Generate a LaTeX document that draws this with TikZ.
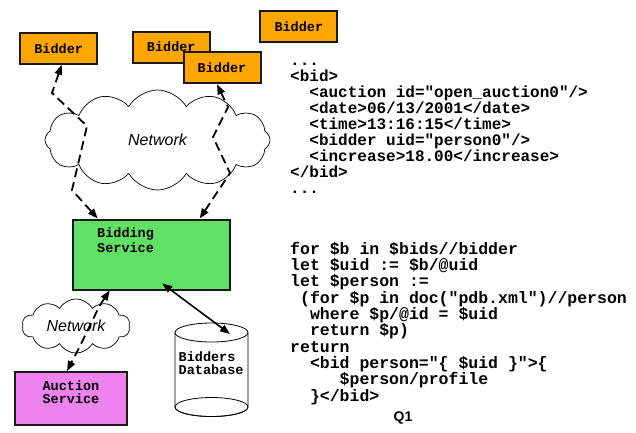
\documentclass[tikz,border=0pt]{standalone}
\usepackage{fontspec}
\setmainfont{Liberation Sans}
\newfontfamily\codefont{Liberation Mono}
\usetikzlibrary{arrows.meta,shapes.symbols,calc}

\definecolor{bidorange}{RGB}{255,166,0}
\definecolor{svcgreen}{RGB}{96,224,100}
\definecolor{aucpink}{RGB}{238,130,238}
\definecolor{edgegray}{RGB}{25,25,25}

\begin{document}
\begin{tikzpicture}[x=1pt,y=-1pt,
  box/.style={draw=edgegray, line width=2pt, inner sep=0pt},
  boxfont/.style={font=\codefont\bfseries\fontsize{13.5}{13}\selectfont},
  bidder/.style={box, boxfont, fill=bidorange, minimum width=77pt, minimum height=31pt},
  netcloud/.style={cloud, draw, line width=0.7pt, fill=white, inner sep=0pt,
                   font=\itshape\fontsize{16}{16}\selectfont},
  codetext/.style={font=\codefont\bfseries\fontsize{16}{16}\selectfont, align=left, inner sep=0pt},
  querytext/.style={font=\codefont\bfseries\fontsize{16.5}{16.3}\selectfont, align=left, inner sep=0pt},
  endtip/.tip={Triangle[length=10pt,width=7.5pt]},
  dasharr/.style={line width=1.8pt, dash pattern=on 9pt off 5pt, endtip-endtip},
  solidarr/.style={line width=1.6pt, endtip-endtip}
]
\useasboundingbox (0,0) rectangle (636,432);

% clouds
\node[netcloud, cloud puffs=12, cloud puff arc=120, aspect=2.2,
      minimum width=225pt, minimum height=100pt] (net) at (157.5,140) {Network};
\node[netcloud, cloud puffs=10, cloud puff arc=120, aspect=2,
      minimum width=108pt, minimum height=52pt] (net2) at (76,326) {Network};

% bidders
\node[bidder] (bidA) at (58.7,48.2) {Bidder};
\node[bidder] (bidB) at (171.3,47) {Bidder};
\node[bidder] (bidC) at (222,67.8) {Bidder};
\node[bidder] (bidD) at (298.8,26.7) {Bidder};

% services
\node[box, fill=svcgreen, minimum width=157pt, minimum height=70pt] (bsvc) at (151.2,254.5) {};
\node[font=\codefont\bfseries\fontsize{13.5}{14.8}\selectfont, align=left, inner sep=0pt, anchor=west] (bsvclbl) at (97,240.5) {Bidding\\Service};
\node[box, fill=aucpink, minimum width=112pt, minimum height=53pt] (auc) at (71,398.5) {};
\node[boxfont, align=center, inner sep=0pt] (auclbl) at (71,392.5) {Auction\\Service};

% database cylinder
\draw[line width=0.8pt, fill=white]
  (175,332.5) -- (175,407) arc[start angle=180, end angle=360, x radius=36.5pt, y radius=9.5pt]
  -- (248,332.5);
\draw[line width=0.8pt, fill=white] (211.5,332.5) ellipse[x radius=36.5pt, y radius=9.5pt];
\draw[line width=0.8pt] (211.5,407) ellipse[x radius=36.5pt, y radius=9.5pt];
\node[boxfont, align=left, inner sep=0pt, anchor=west] (db) at (178.5,363) {Bidders\\Database};
\coordinate (dbtop) at (230,334);

% connectors
\draw[dasharr] ($(bsvc.north west)+(26,0)$) -- (72,190) -- (87,126) -- (52,93) -- ($(bidA.south)+(3,0)$);
\draw[dasharr] ($(bsvc.north east)+(-31,0)$) -- (230,173) -- (213,137) -- (228,107) -- ($(bidC.south)+(-5,0)$);
\draw[dasharr] ($(bsvc.south west)+(38,0)$) -- (100,305) -- (78,350) -- ($(auc.north)+(-4,0)$);
\draw[solidarr] ($(bsvc.south)+(11,-7)$) -- (dbtop);

% data and query (base anchor sits on the last line)
\node[codetext, anchor=base west] (xml) at (290,193.5) {%
...\\
<bid>\\
\phantom{xx}<auction id="open\_auction0"/>\\
\phantom{xx}<date>06/13/2001</date>\\
\phantom{xx}<time>13:16:15</time>\\
\phantom{xx}<bidder uid="person0"/>\\
\phantom{xx}<increase>18.00</increase>\\
</bid>\\
...};

\node[querytext, anchor=base west] (query) at (290,401) {%
for \$b in \$bids//bidder\\
let \$uid := \$b/@uid\\
let \$person :=\\
\phantom{x}(for \$p in doc("pdb.xml")//person\\
\phantom{xx}where \$p/@id = \$uid\\
\phantom{xx}return \$p)\\
return\\
\phantom{xx}<bid person="\{ \$uid \}">\{\\
\phantom{xxxxx}\$person/profile\\
\phantom{xx}\}</bid>};

\node[font=\bfseries\fontsize{14}{14}\selectfont, inner sep=0pt] (q1) at (403,418) {Q1};
\end{tikzpicture}
\end{document}
